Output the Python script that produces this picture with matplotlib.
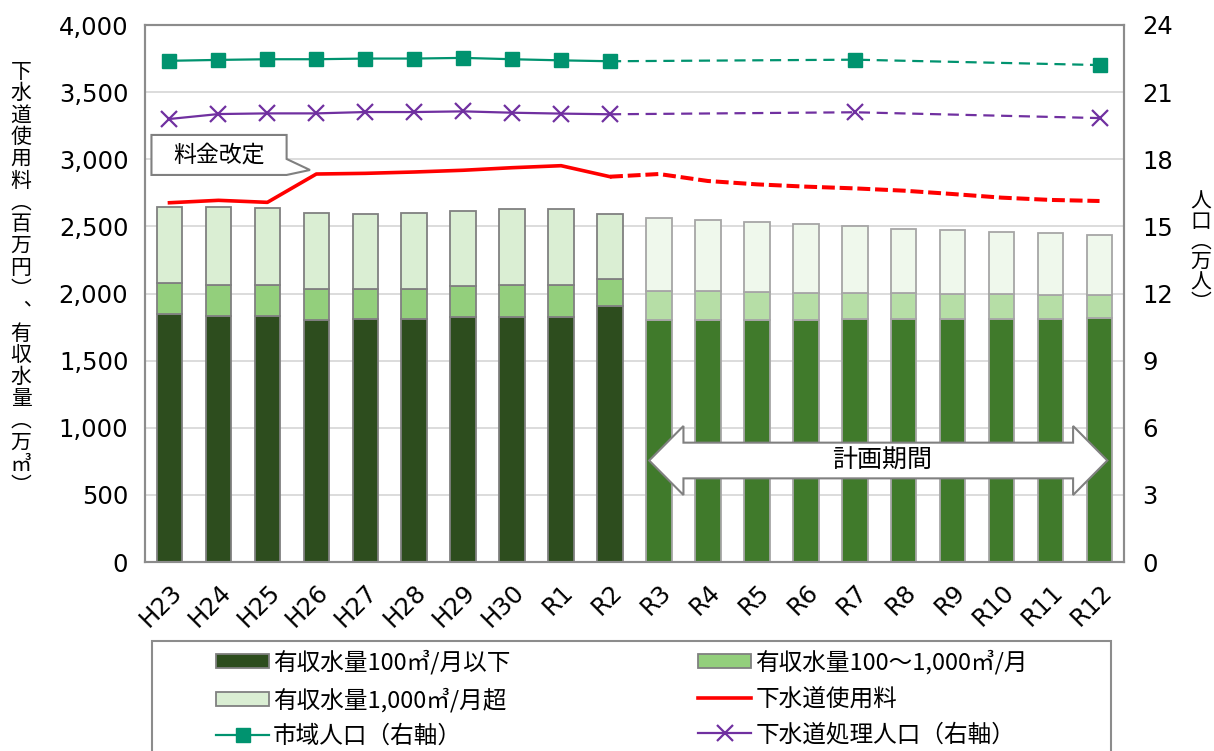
import matplotlib.pyplot as plt
import numpy as np
from matplotlib.patches import Polygon, Rectangle, Patch
from matplotlib.lines import Line2D

plt.rcParams['font.family'] = ['Noto Sans CJK JP', 'DejaVu Sans']

years = ['H23', 'H24', 'H25', 'H26', 'H27', 'H28', 'H29', 'H30', 'R1', 'R2',
         'R3', 'R4', 'R5', 'R6', 'R7', 'R8', 'R9', 'R10', 'R11', 'R12']
# 有収水量 (万m3) stacked
vol_small = [1847, 1835, 1830, 1803, 1808, 1808, 1823, 1826, 1827, 1905,
             1803, 1803, 1803, 1803, 1808, 1810, 1810, 1813, 1813, 1815]
vol_total_mid = [2076, 2066, 2063, 2033, 2033, 2035, 2053, 2061, 2061, 2106,
                 2021, 2019, 2014, 2006, 2004, 2001, 1996, 1996, 1991, 1987]
vol_total = [2642, 2647, 2635, 2602, 2590, 2600, 2612, 2627, 2630, 2592,
             2565, 2548, 2533, 2518, 2503, 2483, 2470, 2458, 2448, 2433]
vol_mid = [m - s for m, s in zip(vol_total_mid, vol_small)]
vol_large = [t - m for t, m in zip(vol_total, vol_total_mid)]
# 下水道使用料 (百万円)
fee = [2676, 2694, 2679, 2890, 2895, 2905, 2918, 2937, 2952, 2870,
       2890, 2838, 2813, 2796, 2783, 2766, 2741, 2714, 2697, 2689]
# 人口 (万人)
city_pop = [22.40, 22.44, 22.47, 22.47, 22.50, 22.50, 22.53, 22.47, 22.42, 22.38,
            None, None, None, None, 22.45, None, None, None, None, 22.21]
sewer_pop = [19.80, 20.02, 20.05, 20.05, 20.11, 20.11, 20.14, 20.08, 20.04, 20.01,
             None, None, None, None, 20.10, None, None, None, None, 19.84]

W, H = 1214, 751
fig = plt.figure(figsize=(W / 100, H / 100), dpi=100)
ax = fig.add_axes([145 / W, 1 - 562 / H, (1124 - 145) / W, (562 - 25) / H])
ax2 = ax.twinx()

x = np.arange(len(years))
n_act = 10  # H23..R2 actual, R3.. plan
past = x < n_act
fut = ~past

cols_past = ['#2D4D1E', '#93CF7C', '#DAEED3']
cols_fut = ['#407A2B', '#B6DEA6', '#EFF8EC']
bw = 0.52
for mask, cols, ec in [(past, cols_past, '#808080'), (fut, cols_fut, '#A6A6A6')]:
    xs = x[mask]
    s = np.array(vol_small)[mask]
    m = np.array(vol_mid)[mask]
    l = np.array(vol_large)[mask]
    ax.bar(xs, s, bw, color=cols[0], edgecolor=ec, linewidth=1.3, zorder=2)
    ax.bar(xs, m, bw, bottom=s, color=cols[1], edgecolor=ec, linewidth=1.3, zorder=2)
    ax.bar(xs, l, bw, bottom=s + m, color=cols[2], edgecolor=ec, linewidth=1.3, zorder=2)

# fee line
ax.plot(x[:n_act], fee[:n_act], color='#FF0000', lw=2.6, zorder=4)
ax.plot(x[n_act - 1:], fee[n_act - 1:], color='#FF0000', lw=2.9, ls=(0, (3.2, 1.2)), zorder=4)

# population lines
green = '#00936F'
purple = '#7030A0'
cp = np.array([np.nan if v is None else v for v in city_pop])
sp = np.array([np.nan if v is None else v for v in sewer_pop])
ax2.plot(x[:n_act], cp[:n_act], color=green, lw=1.6, marker='s', ms=10, zorder=5)
ax2.plot(x[:n_act], sp[:n_act], color=purple, lw=1.6, marker='x', ms=11, mew=1.6, zorder=5)
sel = x[n_act - 1:][~np.isnan(cp[n_act - 1:])]
ax2.plot(sel, cp[sel], color=green, lw=1.6, ls=(0, (5, 3)), zorder=5)
ax2.plot(sel[1:], cp[sel[1:]], color=green, ls='none', marker='s', ms=10, zorder=5)
ax2.plot(sel, sp[sel], color=purple, lw=1.6, ls=(0, (5, 3)), zorder=5)
ax2.plot(sel[1:], sp[sel[1:]], color=purple, ls='none', marker='x', ms=11, mew=1.6, zorder=5)

# axes styling
ax.set_xlim(-0.5, 19.5)
ax.set_ylim(0, 4000)
ax.set_yticks(np.arange(0, 4001, 500))
ax.set_yticklabels([f'{v:,}' for v in range(0, 4001, 500)], family='DejaVu Sans', fontsize=17.5)
ax2.set_ylim(0, 24)
ax2.set_yticks(np.arange(0, 25, 3))
ax2.set_yticklabels([str(v) for v in range(0, 25, 3)], family='DejaVu Sans', fontsize=17.5)
ax.set_xticks(x)
ax.set_xticklabels(years, family='DejaVu Sans', fontsize=17.5, rotation=45,
                   ha='right', rotation_mode='anchor')
ax.tick_params(axis='x', length=0, pad=13)
ax.tick_params(axis='y', length=0, pad=12)
ax2.tick_params(axis='y', length=0, pad=13)
ax.yaxis.grid(True, color='#D9D9D9', lw=1.3)
ax.set_axisbelow(True)
for a in (ax, ax2):
    for sp_ in a.spines.values():
        sp_.set_color('#8C8C8C')
        sp_.set_linewidth(1.5)

# callout 料金改定
bx0, bx1, by0, by1 = -0.368, 2.393, 2883, 3181
call = Polygon([(bx0, by0), (bx0, by1), (bx1, by1), (bx1, 3002), (2.87, 2920),
                (bx1, by0)], closed=True, facecolor='white', edgecolor='#808080',
               lw=1.5, zorder=6)
ax.add_patch(call)
ax.text((bx0 + bx1) / 2, (by0 + by1) / 2, '料金改定', ha='center', va='center',
        fontsize=16.5, zorder=7)

# 計画期間 arrow
tl, tr, hl = 9.80, 19.16, 0.70
yc, hh, sh = 756, 257, 133
arrow = Polygon([(tl, yc), (tl + hl, yc + hh), (tl + hl, yc + sh), (tr - hl, yc + sh),
                 (tr - hl, yc + hh), (tr, yc), (tr - hl, yc - hh), (tr - hl, yc - sh),
                 (tl + hl, yc - sh), (tl + hl, yc - hh)], closed=True,
                facecolor='white', edgecolor='#808080', lw=1.5, zorder=6)
ax.add_patch(arrow)
ax.text(14.55, yc, '計画期間', ha='center', va='center', fontsize=18, zorder=7)

# vertical axis titles (stacked characters)
left_label = '下水道使用料︵百万円︶︑有収水量︵万㎥︶'
fig.text(21 / W, 1 - 279 / H, '\n'.join(left_label), ha='center', va='center',
         fontsize=15, linespacing=0.99)
right_label = '人口︵万人︶'
fig.text(1201 / W, 1 - 252 / H, '\n'.join(right_label), ha='center', va='center',
         fontsize=15, linespacing=0.9)

# legend
fig.add_artist(Rectangle((152 / W, 1 - 770 / H), (1111 - 152) / W, (770 - 641) / H,
                         transform=fig.transFigure, facecolor='none',
                         edgecolor='#8C8C8C', lw=1.5))
h1 = Patch(facecolor=cols_past[0], edgecolor='#808080', lw=1.3)
h2 = Patch(facecolor=cols_past[1], edgecolor='#808080', lw=1.3)
h3 = Patch(facecolor=cols_past[2], edgecolor='#808080', lw=1.3)
h4 = Line2D([], [], color='#FF0000', lw=2.6)
h5 = Line2D([], [], color=green, lw=1.6, marker='s', ms=10)
h6 = Line2D([], [], color=purple, lw=1.6, marker='x', ms=11, mew=1.6)
handles = [h1, h3, h5, h2, h4, h6]
labels = ['有収水量100㎥/月以下', '有収水量1,000㎥/月超', '市域人口（右軸）',
          '有収水量100～1,000㎥/月', '下水道使用料', '下水道処理人口（右軸）']
leg = fig.legend(handles, labels, loc='upper left', bbox_to_anchor=(216 / W, 1 - 650 / H),
                 ncol=2, fontsize=17, frameon=False,
                 handlelength=2.25, handleheight=0.55, handletextpad=0.17,
                 columnspacing=7.95, labelspacing=0.54, borderpad=0, borderaxespad=0)

fig.savefig('out.png', dpi=100)
